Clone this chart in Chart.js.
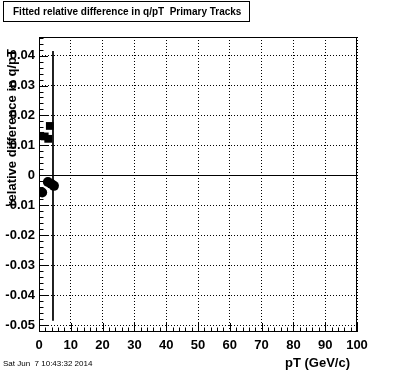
<!DOCTYPE html>
<html>
<head>
<meta charset="utf-8">
<script src="https://cdn.jsdelivr.net/npm/chart.js@4/dist/chart.umd.min.js"></script>
<style>
  body { margin: 0; background: #fff; }
  #c { display: block; }
</style>
</head>
<body>
<canvas id="c" width="396" height="372"></canvas>
<script>
const ctx = document.getElementById('c');

// fitted values
const squareX = [0.4, 1.8, 2.9, 3.4]
const squareY = [0.0132, 0.0130, 0.0122, 0.0165]
const circleX = [1.0, 2.8, 3.8, 4.7]
const circleY = [-0.0057, -0.0022, -0.0028, -0.0035]
const barX = [4.4, 4.4]
const barY = [0.0415, -0.0485]

const xTicks = [0, 10, 20, 30, 40, 50, 60, 70, 80, 90, 100]
const yTicks = [-0.05, -0.04, -0.03, -0.02, -0.01, 0, 0.01, 0.02, 0.03, 0.04]

const title = 'Fitted relative difference in q/pT  Primary Tracks'
const xTitle = 'pT (GeV/c)'
const yTitle = 'relative difference in q/pT'
const stamp = 'Sat Jun  7 10:43:32 2014'

const toPts = (xs, ys) => xs.map((x, i) => ({x: x, y: ys[i]}))

const rootLook = {
  id: 'rootLook',
  beforeDatasetsDraw(chart) {
    const c = chart.ctx, a = chart.chartArea, y = chart.scales.y;
    const y0 = Math.round(y.getPixelForValue(0)) + 0.5;
    c.save();
    c.strokeStyle = '#000';
    c.lineWidth = 1;
    c.beginPath();
    c.moveTo(a.left, y0);
    c.lineTo(a.right, y0);
    c.stroke();
    c.restore();
  },
  afterDraw(chart) {
    const c = chart.ctx, a = chart.chartArea;
    const xs = chart.scales.x, ys = chart.scales.y;
    c.save();
    c.strokeStyle = '#000';
    c.fillStyle = '#000';
    c.lineWidth = 1;

    // frame
    c.strokeRect(Math.round(a.left) + 0.5, Math.round(a.top) + 0.5,
      Math.round(a.right - a.left) - 1, Math.round(a.bottom - a.top) - 1);

    // y ticks, inside, left side
    c.beginPath();
    for (let v = -0.052; v <= 0.0465; v += 0.002) {
      const p = Math.round(ys.getPixelForValue(v)) + 0.5;
      const major = Math.abs(Math.round(v * 100) - v * 100) < 1e-6;
      c.moveTo(a.left, p);
      c.lineTo(a.left + (major ? 9 : 4.5), p);
    }
    // x ticks, inside, bottom
    for (let v = 0; v <= 100; v += 2) {
      const p = Math.round(xs.getPixelForValue(v)) + 0.5;
      const major = v % 10 === 0;
      c.moveTo(p, a.bottom);
      c.lineTo(p, a.bottom - (major ? 9 : 4.5));
    }
    c.stroke();

    // title box
    c.fillStyle = '#fff';
    c.fillRect(3.5, 1.5, 246, 20);
    c.strokeRect(3.5, 1.5, 246, 20);
    c.fillStyle = '#000';
    c.font = 'bold 10px "Liberation Sans", Arial, sans-serif';
    c.textBaseline = 'middle';
    c.textAlign = 'left';
    c.fillText(title, 13, 12.5);

    // axis titles
    c.font = 'bold 13px "Liberation Sans", Arial, sans-serif';
    c.textAlign = 'right';
    c.textBaseline = 'alphabetic';
    c.fillText(xTitle, 350, 367);

    c.save();
    c.translate(12, 49);
    c.rotate(-Math.PI / 2);
    c.textBaseline = 'middle';
    c.fillText(yTitle, 0, 0);
    c.restore();

    // date stamp
    c.font = '8px "Liberation Sans", Arial, sans-serif';
    c.textAlign = 'left';
    c.fillText(stamp, 3, 366);
    c.restore();
  }
}

new Chart(ctx, {
  type: 'scatter',
  data: {
    datasets: [{
      label: 'error',
      type: 'line',
      data: toPts(barX, barY),
      borderColor: '#000',
      borderWidth: 1,
      pointRadius: 0,
      showLine: true
    }, {
      label: 'squares',
      data: toPts(squareX, squareY),
      pointStyle: 'rect',
      pointRadius: 5.5,
      backgroundColor: '#000',
      borderColor: '#000',
      borderWidth: 0
    }, {
      label: 'circles',
      data: toPts(circleX, circleY),
      pointStyle: 'circle',
      pointRadius: 5,
      backgroundColor: '#000',
      borderColor: '#000',
      borderWidth: 0
    }]
  },
  options: {
    responsive: false,
    animation: false,
    devicePixelRatio: 1,
    layout: { padding: { left: 0, top: 37, right: 39, bottom: 0 } },
    plugins: { legend: { display: false }, tooltip: { enabled: false } },
    scales: {
      x: {
        type: 'linear',
        min: 0,
        max: 100,
        afterFit: s => { s.height = 40 },
        afterBuildTicks: s => { s.ticks = xTicks.map(v => ({value: v})) },
        grid: { color: '#000', lineWidth: 1, drawTicks: false },
        border: { display: false, dash: [1, 2] },
        ticks: {
          color: '#000',
          padding: 6,
          maxRotation: 0,
          autoSkip: false,
          font: { family: '"Liberation Sans", Arial, sans-serif', size: 13, weight: 'bold' }
        }
      },
      y: {
        type: 'linear',
        min: -0.0523,
        max: 0.0462,
        afterFit: s => { s.width = 39 },
        afterBuildTicks: s => { s.ticks = yTicks.map(v => ({value: v})) },
        grid: { color: '#000', lineWidth: 1, drawTicks: false },
        border: { display: false, dash: [1, 2] },
        ticks: {
          color: '#000',
          padding: 4,
          autoSkip: false,
          callback: v => String(Math.round(v * 100) / 100),
          font: { family: '"Liberation Sans", Arial, sans-serif', size: 13, weight: 'bold' }
        }
      }
    }
  },
  plugins: [rootLook]
});
</script>
</body>
</html>
